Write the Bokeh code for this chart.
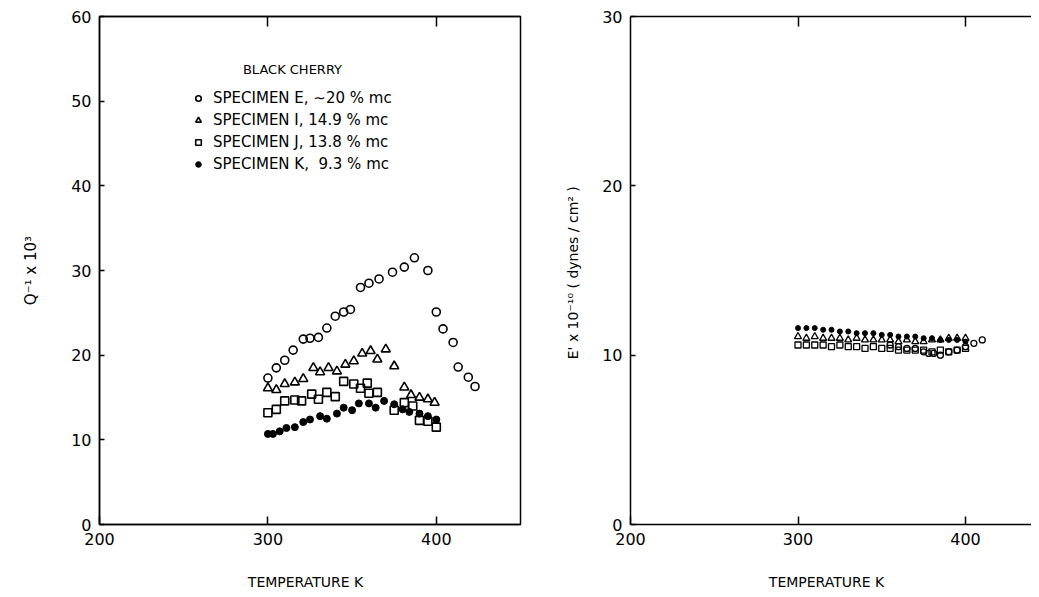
from bokeh.plotting import figure
from bokeh.models import Range1d, FixedTicker, LinearAxis, Legend, LegendItem, Label
from bokeh.layouts import row
from bokeh.embed import file_html
from bokeh.resources import INLINE

# ---- data: left panel, internal friction Q^-1 x 10^3 ----
E_T = [300, 305, 310, 315, 321, 325, 330, 335, 340, 345, 349, 355, 360, 366, 374, 381, 387, 395, 400, 404, 410, 413, 419, 423]
E_Q = [17.3, 18.5, 19.4, 20.6, 21.9, 22.0, 22.1, 23.2, 24.6, 25.1, 25.4, 28.0, 28.5, 29.0, 29.8, 30.4, 31.5, 30.0, 25.1, 23.1, 21.5, 18.6, 17.4, 16.3]
I_T = [300, 305, 310, 316, 321, 327, 331, 336, 341, 346, 351, 356, 361, 365, 370, 375, 381, 385, 390, 395, 399]
I_Q = [16.1, 15.9, 16.6, 16.8, 17.2, 18.5, 18.0, 18.5, 18.1, 18.9, 19.3, 20.2, 20.5, 19.5, 20.7, 18.7, 16.2, 15.3, 15.0, 14.8, 14.4]
J_T = [300, 305, 310, 316, 320, 326, 330, 335, 340, 345, 351, 355, 359, 360, 365, 375, 381, 386, 390, 395, 400]
J_Q = [13.2, 13.6, 14.6, 14.7, 14.6, 15.4, 14.8, 15.6, 15.1, 16.9, 16.6, 16.1, 16.7, 15.5, 15.6, 13.5, 14.4, 14.0, 12.3, 12.2, 11.5]
K_T = [300, 303, 307, 311, 316, 321, 325, 331, 335, 341, 345, 350, 354, 360, 364, 369, 375, 380, 384, 390, 395, 400]
K_Q = [10.7, 10.7, 11.0, 11.4, 11.5, 12.1, 12.4, 12.8, 12.5, 13.1, 13.8, 13.5, 14.3, 14.3, 13.8, 14.6, 14.2, 13.6, 13.3, 13.1, 12.8, 12.4]

# ---- data: right panel, storage modulus E' x 10^-10 ----
R_T = [300, 305, 310, 315, 320, 325, 330, 335, 340, 345, 350, 355, 360, 365, 370, 375, 380, 385, 390, 395, 400]
RK_E = [11.6, 11.6, 11.6, 11.5, 11.5, 11.4, 11.4, 11.3, 11.3, 11.3, 11.2, 11.2, 11.1, 11.1, 11.1, 11.0, 11.0, 10.9, 10.9, 10.9, 10.8]
RI_E = [11.1, 11.0, 11.1, 11.0, 11.0, 11.0, 10.9, 11.0, 10.9, 10.9, 10.9, 10.9, 10.8, 10.9, 10.8, 10.8, 10.9, 10.9, 11.0, 11.0, 11.0]
RJ_E = [10.6, 10.6, 10.6, 10.6, 10.5, 10.6, 10.5, 10.5, 10.4, 10.5, 10.4, 10.4, 10.3, 10.3, 10.3, 10.3, 10.2, 10.3, 10.2, 10.3, 10.4]
RE_T = [355, 360, 365, 370, 375, 378, 381, 385, 390, 395, 400, 405, 410]
RE_E = [10.6, 10.5, 10.4, 10.4, 10.2, 10.1, 10.1, 10.0, 10.2, 10.3, 10.5, 10.7, 10.9]

X_TICKS = [200, 300, 400]
TOP_TICKS = [300, 400]
LEFT_Y_TICKS = [0, 10, 20, 30, 40, 50, 60]
RIGHT_Y_TICKS = [0, 10, 20, 30]
LEGEND_LABELS = ["SPECIMEN E, \u223c20 % mc", "SPECIMEN I, 14.9 % mc",
                 "SPECIMEN J, 13.8 % mc", "SPECIMEN K,  9.3 % mc"]

FONT = "DejaVu Sans"


def style_axis(ax, ticks, tick_len=8):
    ax.ticker = FixedTicker(ticks=ticks)
    ax.minor_tick_line_color = None
    ax.major_tick_in = tick_len
    ax.major_tick_out = 0
    ax.major_tick_line_width = 1.5
    ax.axis_line_width = 1.5
    ax.axis_line_color = "black"
    ax.major_label_text_font = FONT
    ax.major_label_text_font_size = "16px"
    ax.major_label_text_color = "black"
    ax.major_label_standoff = 8
    ax.axis_label_text_font = FONT
    ax.axis_label_text_font_size = "14px"
    ax.axis_label_text_font_style = "normal"
    ax.axis_label_text_color = "black"


def add_top_axis(p):
    top = LinearAxis()
    style_axis(top, TOP_TICKS, 10)
    top.major_label_overrides = {t: "" for t in TOP_TICKS}
    top.major_label_text_font_size = "1px"
    top.major_label_standoff = 0
    p.add_layout(top, "above")


def make_fig(width, yr, xend, bl, br):
    p = figure(width=width, height=593, x_range=Range1d(200, xend), y_range=Range1d(*yr),
               output_backend="svg", toolbar_location=None,
               min_border_left=bl, min_border_right=br, min_border_top=16, min_border_bottom=69)
    p.xgrid.visible = False
    p.ygrid.visible = False
    p.background_fill_color = "white"
    p.border_fill_color = "white"
    return p


# ---------------- left panel ----------------
p1 = make_fig(560, (0, 60), 450, 99, 40)
p1.outline_line_color = "black"
p1.outline_line_width = 1.5
style_axis(p1.xaxis[0], X_TICKS)
p1.xaxis[0].axis_label = "TEMPERATURE   K"
p1.xaxis[0].axis_label_standoff = 26
style_axis(p1.yaxis[0], LEFT_Y_TICKS, 5)
p1.yaxis[0].axis_label = "Q\u207b\u00b9 x 10\u00b3"
p1.yaxis[0].axis_label_text_font_size = "15px"
p1.yaxis[0].axis_label_standoff = 28
add_top_axis(p1)

rE = p1.scatter(E_T, E_Q, marker="circle", size=8, fill_color=None, line_color="black", line_width=1.6)
rI = p1.scatter(I_T, I_Q, marker="triangle", size=9, fill_color=None, line_color="black", line_width=1.6)
rJ = p1.scatter(J_T, J_Q, marker="square", size=8, fill_color=None, line_color="black", line_width=1.6)
rK = p1.scatter(K_T, K_Q, marker="circle", size=7, fill_color="black", line_color="black")

legend = Legend(items=[LegendItem(label=l, renderers=[r]) for l, r in zip(LEGEND_LABELS, [rE, rI, rJ, rK])],
                location=(92, 351), label_text_font=FONT, label_text_font_size="15px",
                label_text_color="black",
                border_line_color=None, background_fill_alpha=0, glyph_width=14, glyph_height=14,
                label_height=14, spacing=4, padding=0, margin=0, label_standoff=8)
p1.add_layout(legend)
p1.add_layout(Label(x=314.6, y=53.7, text="BLACK CHERRY", text_align="center", text_baseline="middle",
                    text_font=FONT, text_font_size="13px", text_color="black"))

# ---------------- right panel ----------------
p2 = make_fig(471, (0, 30), 439.4, 70, 0)
p2.outline_line_color = None
style_axis(p2.xaxis[0], X_TICKS)
p2.xaxis[0].axis_label = "TEMPERATURE   K"
p2.xaxis[0].axis_label_standoff = 26
style_axis(p2.yaxis[0], RIGHT_Y_TICKS, 5)
p2.yaxis[0].axis_label = "E' x 10\u207b\u00b9\u2070  ( dynes / cm\u00b2 )"
p2.yaxis[0].axis_label_standoff = 18
add_top_axis(p2)

p2.scatter(R_T, RK_E, marker="circle", size=5, fill_color="black", line_color="black")
p2.scatter(R_T, RI_E, marker="triangle", size=7, fill_color=None, line_color="black", line_width=1.3)
p2.scatter(R_T, RJ_E, marker="square", size=6, fill_color=None, line_color="black", line_width=1.3)
p2.scatter(RE_T, RE_E, marker="circle", size=6, fill_color=None, line_color="black", line_width=1.3)

layout = row(p1, p2)
open("out.html", "w").write(file_html(layout, INLINE))
